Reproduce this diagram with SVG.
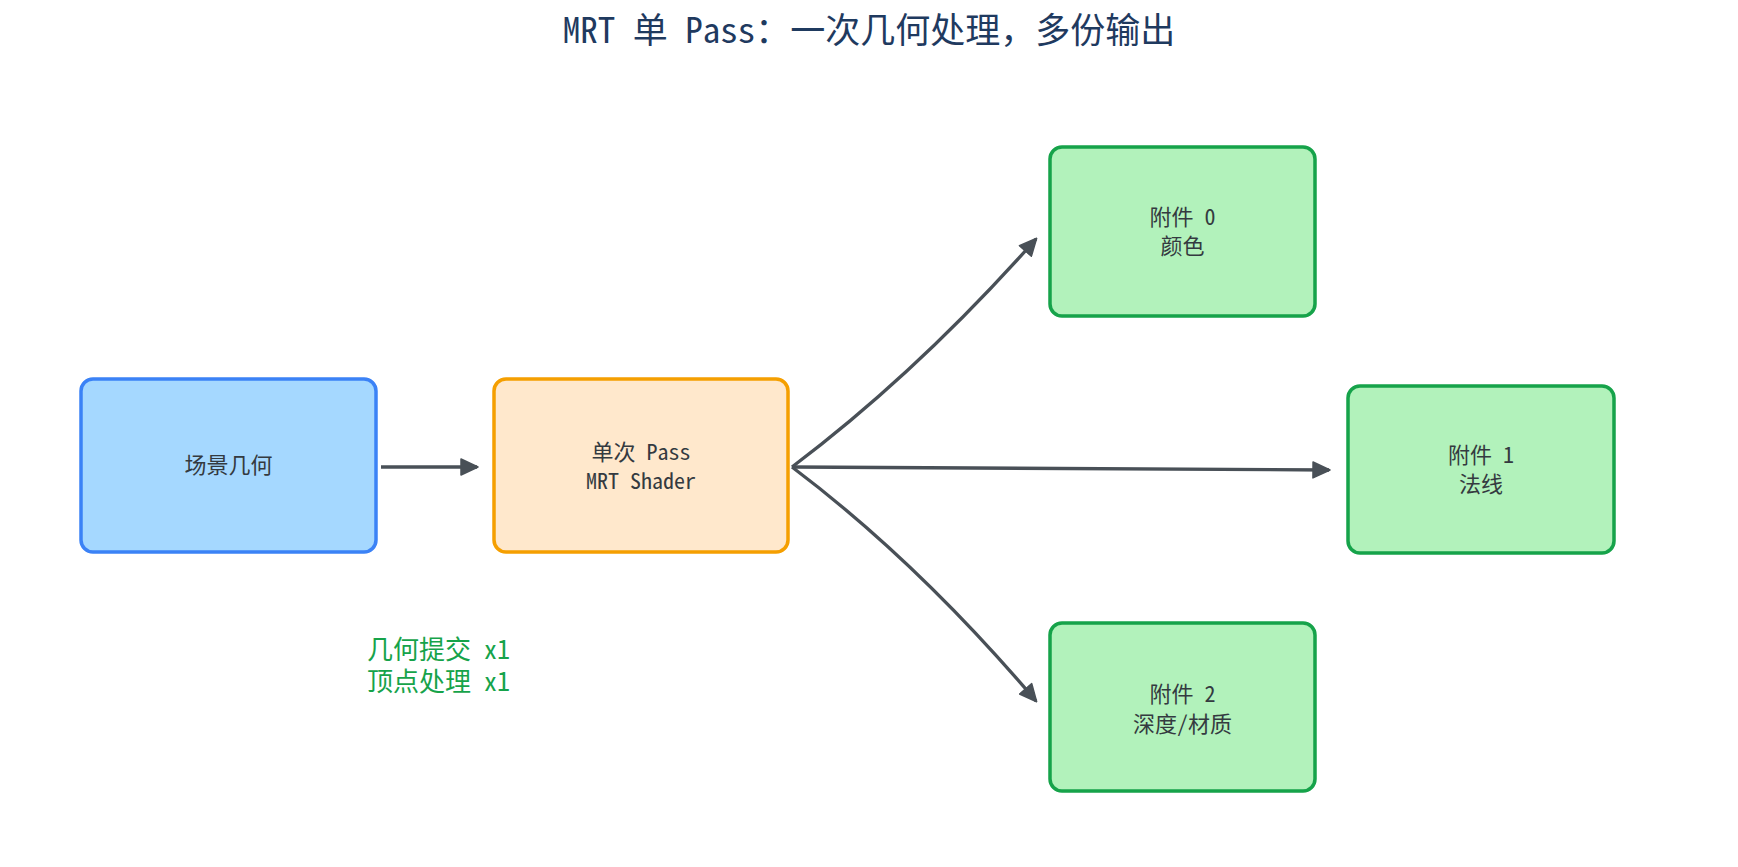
<svg xmlns="http://www.w3.org/2000/svg" width="1738" height="867" viewBox="0 0 1738 867">
<style>
  .t { font-family: "Noto Sans Mono CJK SC", "Noto Sans CJK SC", "DejaVu Sans Mono", monospace; }
  .title { font-size: 35px; font-weight: normal; fill: #1f3a5f; text-anchor: middle; }
  .lbl { font-size: 22px; fill: #343a40; text-anchor: middle; }
  .note { font-size: 26px; fill: #16a34a; }
  .box { stroke-width: 3.5; }
  .blue { fill: #a5d8ff; stroke: #3b82f6; }
  .orange { fill: #ffe8cc; stroke: #f59f00; }
  .green { fill: #b2f2bb; stroke: #16a34a; }
  .edge { fill: none; stroke: #495057; stroke-width: 3.3; marker-end: url(#arrow); }
</style>
<defs>
  <marker id="arrow" markerUnits="userSpaceOnUse" markerWidth="19" markerHeight="18" viewBox="0 0 19 18" refX="17" refY="9" orient="auto">
    <path d="M1,1 L18,9 L1,17 z" fill="#495057" stroke="#495057" stroke-width="1.5" stroke-linejoin="round"/>
  </marker>
</defs>
<rect width="1738" height="867" fill="#ffffff"/>
<text class="t title" x="869" y="43">MRT 单 Pass：一次几何处理，多份输出</text>

<g id="connectors">
  <path class="edge" d="M381,467 L477,467"/>
  <path class="edge" d="M792,467 Q918,372 1036,239"/>
  <path class="edge" d="M792,467 L1329,470"/>
  <path class="edge" d="M792,467 Q918,562 1036,701"/>
</g>

<g id="scene">
  <rect class="box blue" x="81" y="379" width="295" height="173" rx="12"/>
  <text class="t lbl" x="228.5" y="473">场景几何</text>
</g>
<g id="pass">
  <rect class="box orange" x="494" y="379" width="294" height="173" rx="12"/>
  <text class="t lbl" x="641" y="460">单次 Pass</text>
  <text class="t lbl" x="641" y="489">MRT Shader</text>
</g>
<g id="att0">
  <rect class="box green" x="1050" y="147" width="265" height="169" rx="12"/>
  <text class="t lbl" x="1182.5" y="225">附件 0</text>
  <text class="t lbl" x="1182.5" y="254">颜色</text>
</g>
<g id="att1">
  <rect class="box green" x="1348" y="386" width="266" height="167" rx="12"/>
  <text class="t lbl" x="1481" y="463">附件 1</text>
  <text class="t lbl" x="1481" y="492">法线</text>
</g>
<g id="att2">
  <rect class="box green" x="1050" y="623" width="265" height="168" rx="12"/>
  <text class="t lbl" x="1182.5" y="702">附件 2</text>
  <text class="t lbl" x="1182.5" y="732">深度/材质</text>
</g>
<g id="note">
  <text class="t note" x="367" y="659">几何提交 x1</text>
  <text class="t note" x="367" y="691">顶点处理 x1</text>
</g>
</svg>
